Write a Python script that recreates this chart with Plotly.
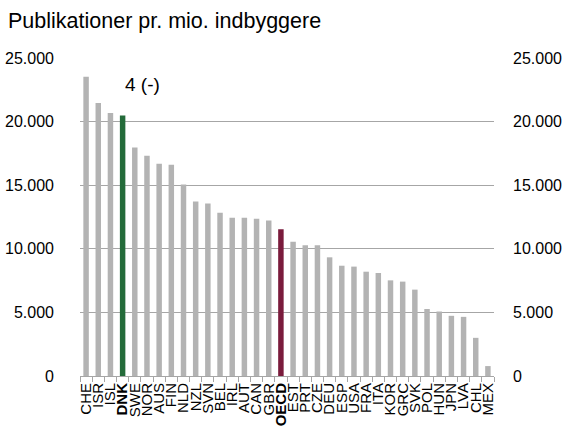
import plotly.graph_objects as go

countries = ["CHE", "ISR", "ISL", "DNK", "SWE", "NOR", "AUS", "FIN", "NLD", "NZL",
             "SVN", "BEL", "IRL", "AUT", "CAN", "GBR", "OECD", "EST", "PRT", "CZE",
             "DEU", "ESP", "USA", "FRA", "ITA", "KOR", "GRC", "SVK", "POL", "HUN",
             "JPN", "LVA", "CHL", "MEX"]
publications = [23530, 21470, 20670, 20480, 17970, 17320, 16690, 16610, 15050, 13710,
                13560, 12830, 12440, 12440, 12360, 12230, 11540, 10550, 10270, 10270,
                9330, 8670, 8600, 8200, 8100, 7520, 7420, 6790, 5270, 5070,
                4730, 4650, 3000, 780]
highlight = {"DNK": "#246b3a", "OECD": "#7a1b3c"}
y_tickvals = [0, 5000, 10000, 15000, 20000, 25000]
y_ticktext = ["0", "5.000", "10.000", "15.000", "20.000", "25.000"]
title_text = "Publikationer pr. mio. indbyggere"
rank_text = "4 (-)"

base_color = "#b3b3b3"
grid_color = "#a6a6a6"
colors = [highlight.get(c, base_color) for c in countries]
x_ticktext = [f"<b>{c}</b>" if c in highlight else c for c in countries]

fig = go.Figure()
fig.add_trace(go.Bar(x=countries, y=publications, marker=dict(color=colors, line=dict(width=0)),
                     showlegend=False, hoverinfo="x+y"))
fig.add_trace(go.Scatter(x=countries, y=publications, mode="none", yaxis="y2",
                         showlegend=False, hoverinfo="skip"))

font_family = "Liberation Sans, Arial, sans-serif"
fig.update_layout(
    width=568, height=428,
    autosize=False,
    margin=dict(l=80, r=74, t=58, b=52, autoexpand=False),
    paper_bgcolor="white", plot_bgcolor="white",
    font=dict(family=font_family, color="black", size=16),
    bargap=0.55,
    title=dict(text=title_text, x=8 / 568, xref="container", xanchor="left",
               y=1 - 20 / 428, yref="container", yanchor="middle",
               font=dict(size=21.5, family=font_family, color="black")),
    xaxis=dict(type="category", tickvals=countries, ticktext=x_ticktext, tickangle=-90,
               tickfont=dict(size=15, family=font_family, color="black"),
               showline=True, linecolor=grid_color, linewidth=1, automargin=False,
               ticks="outside", tickson="boundaries", ticklen=5, tickcolor=grid_color,
               showgrid=False, range=[-0.5, len(countries) - 0.5]),
    yaxis=dict(range=[0, 25000], tickvals=y_tickvals, ticktext=y_ticktext,
               showgrid=True, gridcolor=grid_color, gridwidth=1, zeroline=False,
               showline=False, ticks="", ticklabelstandoff=25, automargin=False,
               tickfont=dict(size=16, family=font_family, color="black")),
    yaxis2=dict(range=[0, 25000], tickvals=y_tickvals, ticktext=y_ticktext,
                overlaying="y", side="right", showgrid=False, zeroline=False,
                showline=False, ticks="", ticklabelstandoff=18, automargin=False,
                tickfont=dict(size=16, family=font_family, color="black")),
    annotations=[dict(text=rank_text, x=0.152, xref="paper", y=22900, yref="y",
                      xanchor="center", yanchor="middle", showarrow=False,
                      font=dict(size=19, family=font_family, color="black"))],
)

fig.write_html("out.html", config={"displayModeBar": False},
               post_script="document.body.style.margin='0';document.body.style.padding='0';")
